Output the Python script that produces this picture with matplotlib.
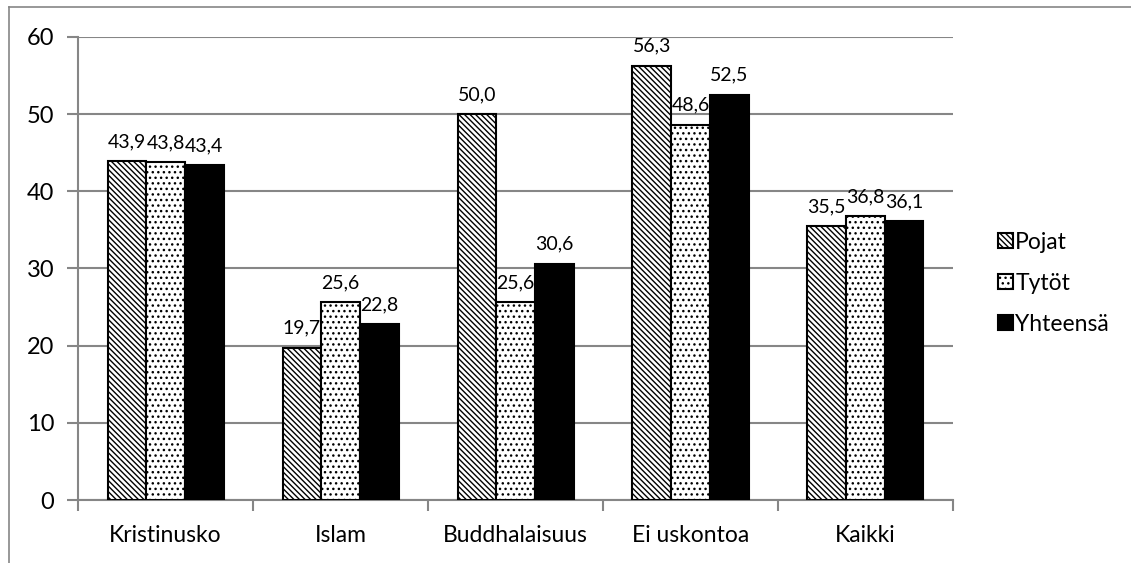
import matplotlib
matplotlib.use("Agg")
import matplotlib.pyplot as plt
import numpy as np
from matplotlib.lines import Line2D

categories = ["Kristinusko", "Islam", "Buddhalaisuus", "Ei uskontoa", "Kaikki"]
series_names = ["Pojat", "Tytöt", "Yhteensä"]
pojat = [43.9, 19.7, 50.0, 56.3, 35.5]
tytot = [43.8, 25.6, 25.6, 48.6, 36.8]
yhteensa = [43.4, 22.8, 30.6, 52.5, 36.1]
yticks = [0, 10, 20, 30, 40, 50, 60]

plt.rcParams['font.family'] = ['Lato', 'DejaVu Sans']
plt.rcParams['hatch.linewidth'] = 1.0

fig = plt.figure(figsize=(11.31, 5.63), dpi=100)
ax = fig.add_axes([0.069, 0.1119, 0.7736, 0.8224])

x = np.arange(len(categories))
w = 0.221
styles = [
    dict(facecolor='white', edgecolor='black', hatch='\\\\\\\\\\\\'),
    dict(facecolor='white', edgecolor='black', hatch='...'),
    dict(facecolor='black', edgecolor='black', hatch=None),
]
handles = []
for i, (vals, name, st) in enumerate(zip([pojat, tytot, yhteensa], series_names, styles)):
    bars = ax.bar(x + (i - 1) * w, vals, width=w, linewidth=1.5, label=name, zorder=3, **st)
    handles.append(bars)
    for b, v in zip(bars, vals):
        ax.annotate(f"{v:.1f}".replace('.', ','), (b.get_x() + b.get_width() / 2, v),
                    xytext=(0, 8), textcoords='offset points', ha='center', va='bottom',
                    fontsize=14, zorder=4)

ax.set_xlim(-0.5, len(categories) - 0.5)
ax.set_ylim(0, 60)
ax.set_yticks(yticks)
ax.set_yticklabels([str(t) for t in yticks])
ax.set_xticks(x)
ax.set_xticklabels(categories)
ax.set_xticks(np.arange(-0.5, len(categories), 1.0), minor=True)
ax.tick_params(axis='x', which='major', length=0, pad=18, labelsize=16.5)
ax.tick_params(axis='x', which='minor', length=8, width=1.5, color='#868686', direction='out')
ax.tick_params(axis='y', length=8, width=1.5, color='#868686', direction='out', pad=9, labelsize=17)
ax.yaxis.grid(True, color='#868686', linewidth=1.5, zorder=0)
ax.set_axisbelow(True)
for s in ['top', 'right']:
    ax.spines[s].set_visible(False)
ax.spines['left'].set_color('#868686')
ax.spines['left'].set_linewidth(1.5)
ax.spines['bottom'].set_color('#868686')
ax.spines['bottom'].set_linewidth(1.5)

leg = fig.legend(handles=handles, labels=series_names, loc='center left',
                 bbox_to_anchor=(0.874, 0.497), frameon=False, fontsize=16.5,
                 handlelength=0.65, handleheight=0.65, handletextpad=0.12,
                 labelspacing=0.88, borderaxespad=0)

# outer chart border (partially visible)
fig.add_artist(Line2D([0.008, 0.008], [0, 0.988], transform=fig.transFigure, color='#868686', linewidth=1.2))
fig.add_artist(Line2D([0.008, 1.0], [0.988, 0.988], transform=fig.transFigure, color='#868686', linewidth=1.2))

fig.savefig("out.png", dpi=100)
